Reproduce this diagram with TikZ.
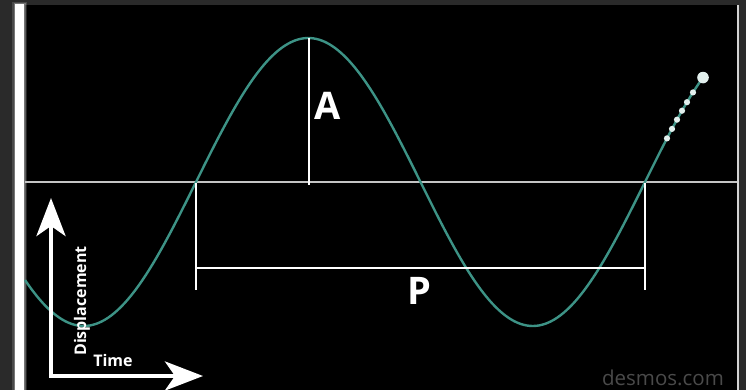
\documentclass[tikz,border=0pt]{standalone}
\usepackage{fontspec}
\setmainfont{Open Sans}
\usetikzlibrary{arrows.meta}

\definecolor{framegray}{HTML}{2A2A2A}
\definecolor{wavecol}{HTML}{3D9386}
\definecolor{axiscol}{HTML}{C4C4C4}
\definecolor{markgray}{HTML}{4A4A4A}

\tikzset{
    wave/.style={draw=wavecol, line width=2.4pt},
    baseline/.style={draw=axiscol, line width=1.8pt},
    marker/.style={draw=white, line width=1.6pt},
    bigarrow/.style={draw=white, line width=4.5pt, line join=miter,
        {Stealth[length=38pt, width=29pt, inset=10pt]}-{Stealth[length=38pt, width=29pt, inset=10pt]}},
    biglabel/.style={text=white, font=\fontsize{38}{38}\selectfont\bfseries, inner sep=0pt},
    axislabel/.style={text=white, font=\fontsize{16}{16}\selectfont\bfseries, inner sep=0pt},
    trail/.style={fill=white!85!wavecol}
}

\begin{document}
\begin{tikzpicture}[x=1pt, y=-1pt]

        \useasboundingbox (0,0) rectangle (746,390);

        % -----------------------
        % 1. Frame and screen
        % -----------------------
        \fill[framegray] (0,0) rectangle (746,390);
        \fill[black] (25,5) rectangle (737,390);
        \fill[white!80!framegray] (736.5,5) rectangle (739,390);
        \fill[white, opacity=0.15] (12,2) rectangle (27,390);
        \fill[white, opacity=0.25] (13.5,3) rectangle (25.5,390);
        \fill[white] (15,4) rectangle (24,390);

        % -----------------------
        % 2. Time axis (horizontal line)
        % -----------------------
        \coordinate (left) at (25,182);
        \coordinate (right) at (737,182);
        \draw[baseline] (left) -- (right);

        % -----------------------
        % 3. Wave
        % -----------------------
        \draw[wave] plot[domain=25:703, samples=220, smooth]
            (\x, {182-144*sin((\x-196)/449*360)});

        % trail of dots at the pen end
        \foreach \px in {667,672,677,682,687,693} {
            \fill[trail] (\px, {182-144*sin((\px-196)/449*360)}) circle (3.1);
        }
        \fill[trail] (703, {182-144*sin((703-196)/449*360)}) circle (5.8);

        % -----------------------
        % 4. Amplitude
        % -----------------------
        \coordinate (peak) at (309,38);
        \coordinate (peakfoot) at (309,185);
        \draw[marker] (peak) -- (peakfoot);
        \node[biglabel] (amp) at (328,106) {A};

        % -----------------------
        % 5. Period
        % -----------------------
        \coordinate (cross1) at (196,183);
        \coordinate (cross2) at (645,183);
        \coordinate (low1) at (196,290);
        \coordinate (low2) at (645,290);
        \coordinate (mid1) at (196,268);
        \coordinate (mid2) at (645,268);
        \draw[marker] (cross1) -- (low1);
        \draw[marker] (cross2) -- (low2);
        \draw[marker] (mid1) -- (mid2);
        \node[biglabel] (per) at (419,291) {P};

        % -----------------------
        % 6. Axes arrows
        % -----------------------
        \coordinate (vtip) at (51,198);
        \coordinate (htip) at (203,376);
        \draw[bigarrow] (vtip) |- (htip);
        \node[axislabel, rotate=90] (disp) at (82,301) {Displacement};
        \node[axislabel] (time) at (113,360) {Time};

        % -----------------------
        % 7. Watermark
        % -----------------------
        \node[text=markgray, font=\fontsize{20.5}{21}\selectfont, inner sep=0pt]
            (brand) at (663,378) {desmos.com};

    \end{tikzpicture}
\end{document}
